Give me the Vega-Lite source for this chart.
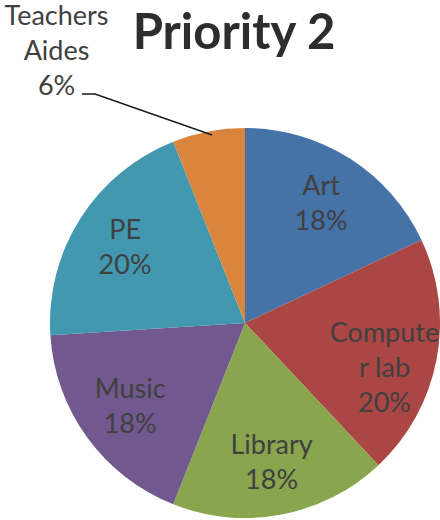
{
  "$schema": "https://vega.github.io/schema/vega-lite/v6.json",
  "autosize": {"type": "none"},
  "padding": {"left": 0, "top": 103, "right": 0, "bottom": 0},
  "width": 490,
  "height": 440,
  "title": {
    "text": "Priority 2",
    "font": "Lato",
    "fontSize": 49,
    "fontWeight": "bold",
    "color": "#2d2d2d",
    "anchor": "middle",
    "dx": -11,
    "offset": -56
  },
  "config": {"view": {"stroke": null}, "font": "Lato"},
  "layer": [
    {
      "data": {"name": "slices"},
      "mark": {"type": "arc", "radius": 195, "stroke": null},
      "encoding": {
        "theta": {"field": "share", "type": "quantitative", "stack": true},
        "color": {
          "field": "category",
          "type": "nominal",
          "scale": {
            "domain": ["Art", "Computer lab", "Library", "Music", "PE", "Teachers Aides"],
            "range": ["#4572A7", "#AA4643", "#89A54E", "#71588F", "#4198AF", "#DB843D"]
          },
          "legend": null
        }
      }
    },
    {
      "data": {"name": "slices"},
      "mark": {"type": "text", "radius": 142, "dy": -16, "font": "Lato", "fontSize": 27, "lineBreak": "\n", "lineHeight": 35, "color": "#404040", "align": "center", "baseline": "middle"},
      "encoding": {
        "theta": {"field": "share", "type": "quantitative", "stack": true},
        "order": {"field": "category", "sort": "ascending"},
        "text": {"condition": {"test": "datum.category !== 'Teachers Aides'", "field": "label"}, "value": ""}
      }
    },
    {
      "data": {"name": "slices"},
      "mark": {"type": "text", "radius": 280, "dx": -136, "dy": -31, "font": "Lato", "fontSize": 27, "lineBreak": "\n", "lineHeight": 35, "color": "#404040", "align": "center", "baseline": "middle"},
      "encoding": {
        "theta": {"field": "share", "type": "quantitative", "stack": true},
        "order": {"field": "category", "sort": "ascending"},
        "text": {"condition": {"test": "datum.category === 'Teachers Aides'", "field": "label"}, "value": ""}
      }
    },
    {
      "data": {"name": "leader"},
      "mark": {"type": "line", "color": "#1a1a1a", "strokeWidth": 1.4},
      "encoding": {
        "x": {"field": "x", "type": "quantitative", "scale": {"domain": [-1.25641, 1.25641], "nice": false, "zero": false}, "axis": null},
        "y": {"field": "y", "type": "quantitative", "scale": {"domain": [-1.12821, 1.12821], "nice": false, "zero": false}, "axis": null},
        "order": {"field": "i", "type": "quantitative"}
      }
    }
  ],
  "datasets": {
    "slices": [
      {"category": "Art", "label": "Art\n18%", "share": 18},
      {"category": "Computer lab", "label": "Compute\nr lab\n20%", "share": 20},
      {"category": "Library", "label": "Library\n18%", "share": 18},
      {"category": "Music", "label": "Music\n18%", "share": 18},
      {"category": "PE", "label": "PE\n20%", "share": 20},
      {"category": "Teachers Aides", "label": "Teachers\nAides\n6%", "share": 6}
    ],
    "leader": [
      {"i": 0, "x": -0.836, "y": 1.174},
      {"i": 1, "x": -0.769, "y": 1.174},
      {"i": 2, "x": -0.169, "y": 0.964}
    ]
  }
}
